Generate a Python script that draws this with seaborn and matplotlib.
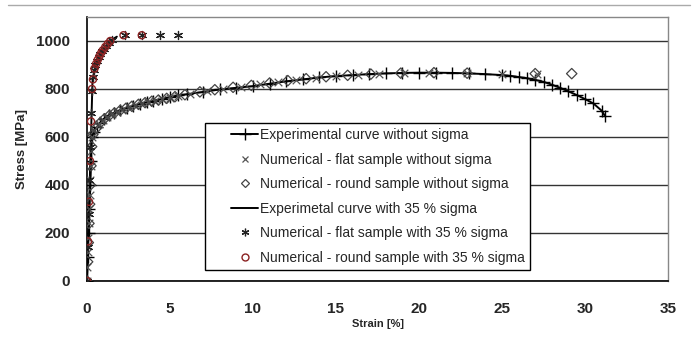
import matplotlib
matplotlib.use("Agg")
import matplotlib.pyplot as plt
import seaborn as sns
import pandas as pd
from matplotlib.lines import Line2D
from matplotlib.legend_handler import HandlerLine2D

# ---- data ----
exp_wo_strain = [0, 0.05, 0.1, 0.15, 0.2, 0.25, 0.3, 0.4, 0.6, 0.8, 1.0, 1.3, 1.6, 2.0, 2.4, 2.8,
                 3.2, 3.6, 4.0, 4.5, 5.0, 5.5, 6.0, 7.0, 8.0, 9.0, 10.0, 11.0, 12.0, 13.0, 14.0,
                 15.0, 16.0, 17.0, 18.0, 19.0, 20.0, 21.0, 22.0, 23.0, 24.0, 25.0, 25.5, 26.0,
                 26.5, 27.0, 27.5, 28.0, 28.5, 29.0, 29.5, 30.0, 30.5, 31.0, 31.2]
exp_wo_stress = [0, 100, 200, 300, 400, 500, 600, 620, 640, 660, 675, 690, 700, 712, 722, 730,
                 738, 745, 750, 758, 766, 773, 778, 788, 798, 805, 812, 822, 832, 840, 848,
                 854, 858, 862, 865, 867, 868, 868, 867, 865, 862, 858, 855, 850,
                 845, 838, 830, 818, 805, 790, 775, 758, 740, 710, 688]

flat_wo_strain = [0.0, 0.03, 0.06, 0.09, 0.12, 0.15, 0.18, 0.21, 0.24, 0.27, 0.3, 0.45, 0.7, 0.95,
                  1.2, 1.5, 1.8, 2.1, 2.5, 2.9, 3.3, 3.7, 4.1, 4.5, 5.0, 5.5, 6.2, 7.2, 8.2, 9.3,
                  10.4, 11.5, 12.6, 13.8, 15.0, 16.3, 17.6, 19.1, 20.6, 22.9, 25.0, 27.1]
flat_wo_stress = [0, 60, 120, 180, 240, 300, 360, 420, 480, 540, 600, 628, 655, 672,
                  685, 697, 706, 714, 724, 733, 740, 746, 752, 757, 764, 771, 779, 791, 801, 809,
                  819, 829, 838, 847, 854, 859, 863, 866, 868, 866, 862, 863]

round_wo_strain = [0.0, 0.04, 0.08, 0.12, 0.16, 0.2, 0.24, 0.28, 0.35, 0.55, 0.8, 1.05, 1.35,
                   1.65, 2.0, 2.35, 2.7, 3.1, 3.5, 3.9, 4.3, 4.8, 5.3, 5.9, 6.8, 7.7, 8.8, 9.9,
                   11.0, 12.1, 13.2, 14.4, 15.7, 17.1, 18.9, 20.9, 22.9, 27.0, 29.2]
round_wo_stress = [0, 80, 160, 240, 320, 400, 480, 560, 610, 636, 660, 676, 690,
                   700, 711, 720, 728, 736, 743, 749, 754, 761, 768, 776, 788, 797, 807, 815,
                   825, 835, 843, 851, 857, 862, 866, 868, 866, 864, 864]

exp_w_strain = [0, 0.33, 0.36, 0.45, 0.55, 0.65, 0.75, 0.85, 1.0, 1.2, 1.4, 1.6, 1.8]
exp_w_stress = [0, 830, 848, 876, 898, 916, 931, 945, 966, 985, 998, 1010, 1018]

flat_w_strain = [0, 0.05, 0.1, 0.15, 0.2, 0.25, 0.3, 0.35, 0.42, 0.5, 0.6, 0.7, 0.8, 0.9, 1.0,
                 1.15, 1.3, 1.5, 2.3, 3.3, 4.4, 5.5]
flat_w_stress = [0, 140, 280, 420, 560, 700, 790, 850, 880, 900, 918, 933, 946, 957, 967,
                 980, 992, 1006, 1024, 1024, 1024, 1024]

round_w_strain = [0, 0.06, 0.12, 0.18, 0.24, 0.3, 0.36, 0.45, 0.55, 0.65, 0.75, 0.85, 0.95,
                  1.1, 1.25, 1.4, 2.2, 3.3]
round_w_stress = [0, 165, 330, 500, 665, 800, 840, 885, 905, 922, 937, 950, 961,
                  975, 988, 1000, 1024, 1024]

labels = ["Experimental curve without sigma",
          "Numerical - flat sample without sigma",
          "Numerical - round sample without sigma",
          "Experimetal curve with 35 % sigma",
          "Numerical - flat sample with 35 % sigma",
          "Numerical - round sample with 35 % sigma"]

x_ticks = [0, 5, 10, 15, 20, 25, 30, 35]
y_ticks = [0, 200, 400, 600, 800, 1000]

# ---- style ----
sns.set_style("white")
plt.rcParams['font.family'] = ['Liberation Sans', 'DejaVu Sans']

fig = plt.figure(figsize=(6.94, 3.49), dpi=100)
ax = fig.add_axes([87/694, 68/349, (668-87)/694, (281-17)/349])

red = "#8b2222"
ast = (6, 2, 0)

# gridlines
ax.set_axisbelow(True)
ax.yaxis.grid(True, color="#333333", linewidth=1.0)
ax.xaxis.grid(False)

# lines
sns.lineplot(x=exp_wo_strain, y=exp_wo_stress, ax=ax, color="black", linewidth=1.4,
             marker="+", markersize=8, markeredgewidth=1.0, markeredgecolor="black",
             sort=False, estimator=None, zorder=3)
sns.lineplot(x=exp_w_strain, y=exp_w_stress, ax=ax, color="black", linewidth=1.4,
             sort=False, estimator=None, zorder=3)
# numerical points
sns.scatterplot(x=flat_wo_strain, y=flat_wo_stress, ax=ax, marker="x", s=30,
                color="#555555", linewidth=0.9, zorder=4)
sns.scatterplot(x=round_wo_strain, y=round_wo_stress, ax=ax, marker="D", s=28,
                facecolor="none", edgecolor="#444444", linewidth=0.9, zorder=4)
sns.scatterplot(x=flat_w_strain, y=flat_w_stress, ax=ax, marker=ast, s=34,
                color="#222222", edgecolor="#222222", linewidth=0.9, zorder=4)
sns.scatterplot(x=round_w_strain, y=round_w_stress, ax=ax, marker="o", s=26,
                facecolor="none", edgecolor=red, linewidth=1.0, zorder=5)

ax.set_xlim(0, 35)
ax.set_ylim(0, 1100)
ax.set_xticks(x_ticks)
ax.set_yticks(y_ticks)
ax.set_xticklabels([str(v) for v in x_ticks], fontsize=11, fontweight="bold")
ax.set_yticklabels([str(v) for v in y_ticks], fontsize=11, fontweight="bold")
ax.tick_params(axis="both", direction="out", length=4, width=1, color="black", pad=8)
ax.tick_params(axis="x", pad=11)
ax.set_xlabel("Strain [%]", fontsize=8, fontweight="bold", labelpad=2)
ax.set_ylabel("Stress [MPa]", fontsize=9.5, fontweight="bold", labelpad=6)

for s in ["top", "right"]:
    ax.spines[s].set_color("#888888")
    ax.spines[s].set_linewidth(1.0)
for s in ["left", "bottom"]:
    ax.spines[s].set_color("black")
    ax.spines[s].set_linewidth(1.2)

handles = [
    Line2D([], [], color="black", lw=1.4, marker="+", markersize=8, markeredgewidth=1.0),
    Line2D([], [], ls="none", marker="x", markersize=5, color="#555555", markeredgewidth=0.9),
    Line2D([], [], ls="none", marker="D", markersize=4.5, markerfacecolor="none",
           markeredgecolor="#444444", markeredgewidth=0.9),
    Line2D([], [], color="black", lw=1.4),
    Line2D([], [], ls="none", marker=ast, markersize=5.5, color="#222222", markeredgewidth=0.9),
    Line2D([], [], ls="none", marker="o", markersize=5, markerfacecolor="none",
           markeredgecolor=red, markeredgewidth=1.0),
]
leg = ax.legend(handles, labels, loc="upper left", bbox_to_anchor=(0.203, 0.598),
                fontsize=10, frameon=True, fancybox=False, shadow=False,
                handlelength=3.5, handletextpad=0.15, labelspacing=0.76,
                borderpad=0.35, borderaxespad=0,
                handler_map={Line2D: HandlerLine2D(xpad=1.5)})
leg.get_frame().set_edgecolor("black")
leg.get_frame().set_linewidth(1.0)
leg.get_frame().set_facecolor("white")
leg.get_frame().set_alpha(1)
leg.set_zorder(10)

# decorative top line
fig.add_artist(Line2D([8/694, 690/694], [1 - 5/349, 1 - 5/349], transform=fig.transFigure,
                      color="#aaaaaa", lw=1.0))

fig.savefig("out.png", dpi=100)
